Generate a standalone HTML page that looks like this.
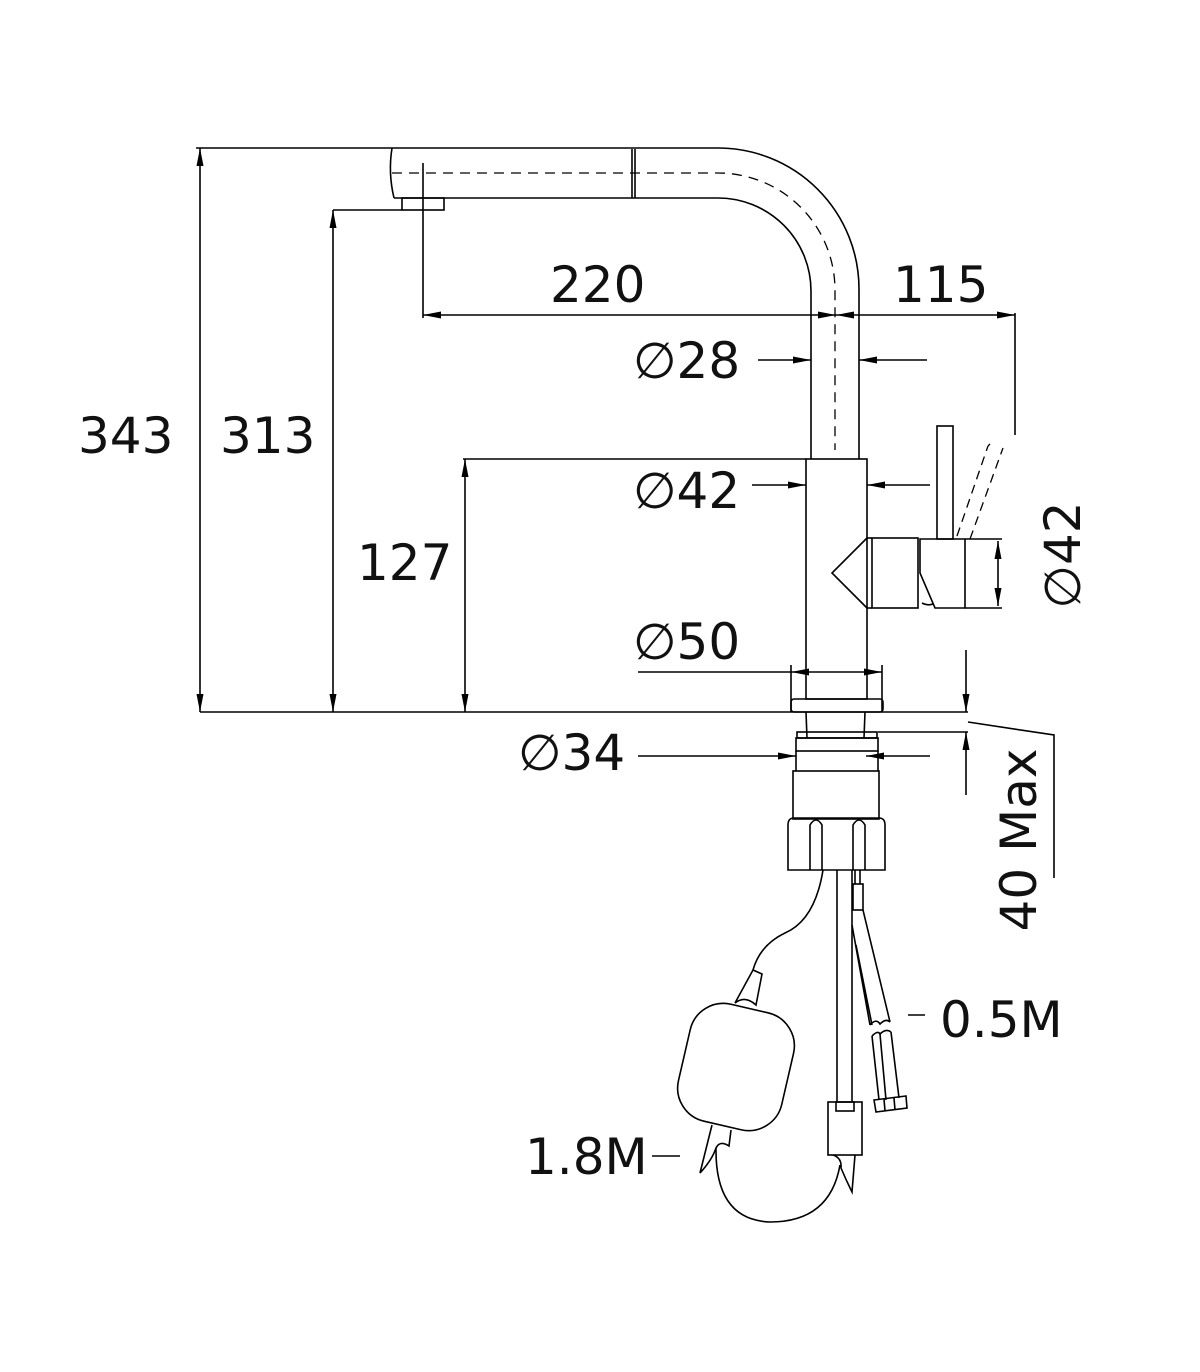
<!DOCTYPE html>
<html><head><meta charset="utf-8"><style>
html,body{margin:0;padding:0;background:#fff;}
svg{display:block;}
text{font-family:"DejaVu Sans","Liberation Sans",sans-serif;fill:#111;}
</style></head><body>
<svg width="1200" height="1372" viewBox="0 0 1200 1372" xmlns="http://www.w3.org/2000/svg">
<defs>
<marker id="a" viewBox="0 0 18 7" refX="18" refY="3.5" markerWidth="18" markerHeight="7" markerUnits="userSpaceOnUse" orient="auto-start-reverse"><path d="M0,0 L18,3.5 L0,7 z" fill="#000"/></marker>
</defs>
<g fill="none" stroke="#000" stroke-width="1.6">
<path d="M392,148 L718,148 A141,141 0 0 1 859,289 L859,459"/>
<path d="M394,198 L718,198 A93,93 0 0 1 811,291 L811,459"/>
<path d="M392,148 Q388,173 394,198"/>
<line x1="632" y1="149" x2="632" y2="198"/><line x1="635" y1="149" x2="635" y2="198"/>
<path d="M392,173 L718,173 A117,117 0 0 1 835,290 L835,450" stroke-dasharray="10,7" stroke-width="1.3"/>
<rect x="402" y="198" width="42" height="12"/>
<line x1="333" y1="210" x2="402" y2="210"/>
<line x1="423" y1="163" x2="423" y2="318"/>
<line x1="196" y1="148" x2="392" y2="148"/>
<line x1="423" y1="315" x2="836" y2="315" marker-start="url(#a)" marker-end="url(#a)"/>
<line x1="836" y1="315" x2="1015" y2="315" marker-start="url(#a)" marker-end="url(#a)"/>
<line x1="1015" y1="313" x2="1015" y2="435"/>
<line x1="758" y1="360" x2="811" y2="360" marker-end="url(#a)"/>
<line x1="927" y1="360" x2="859" y2="360" marker-end="url(#a)"/>
<rect x="806" y="459" width="61" height="240"/>
<line x1="463" y1="459" x2="806" y2="459"/>
<line x1="752" y1="485" x2="806" y2="485" marker-end="url(#a)"/>
<line x1="930" y1="485" x2="867" y2="485" marker-end="url(#a)"/>
<path d="M867,538 L832,573 L867,608"/>
<rect x="872" y="538" width="46" height="70"/>
<line x1="867" y1="538" x2="872" y2="538"/><line x1="867" y1="608" x2="872" y2="608"/>
<path d="M920,539 L920,573 L935,608 L965,608 L965,539 Z"/>
<path d="M922,603 Q928,606 933,604"/>
<line x1="965" y1="539" x2="1002" y2="539"/><line x1="965" y1="608" x2="1002" y2="608"/>
<rect x="937" y="426" width="16" height="113"/>
<path d="M957,536 L988,446 M970,539 L1003,448 M988,446 L990,444" stroke-dasharray="9,6" stroke-width="1.3"/>
<line x1="998" y1="541" x2="998" y2="606" marker-start="url(#a)" marker-end="url(#a)"/>
<line x1="791" y1="665" x2="791" y2="712"/><line x1="882" y1="665" x2="882" y2="712"/>
<line x1="638" y1="672" x2="791" y2="672"/>
<line x1="791" y1="672" x2="882" y2="672" marker-start="url(#a)" marker-end="url(#a)"/>
<rect x="791" y="699" width="92" height="13" rx="3"/>
<line x1="200" y1="712" x2="968" y2="712"/>
<line x1="878" y1="732" x2="968" y2="732"/>
<line x1="806" y1="712" x2="807" y2="738"/><line x1="865" y1="712" x2="864" y2="738"/>
<rect x="797" y="732" width="80" height="6"/>
<rect x="796" y="738" width="82" height="13"/>
<line x1="796" y1="751" x2="796" y2="771"/><line x1="878" y1="751" x2="878" y2="771"/>
<line x1="638" y1="756" x2="796" y2="756" marker-end="url(#a)"/>
<line x1="930" y1="756" x2="866" y2="756" marker-end="url(#a)"/>
<rect x="793" y="771" width="86" height="48"/>
<path d="M788,825 Q788,818 794,818 L879,818 Q885,818 885,825 L885,870 L788,870 Z"/>
<path d="M810,870 L810,825 Q816,815 822,825 L822,870 M853,870 L853,825 Q859,815 865,825 L865,870"/>
<line x1="966" y1="650" x2="966" y2="712" marker-end="url(#a)"/>
<line x1="966" y1="795" x2="966" y2="732" marker-end="url(#a)"/>
<path d="M968,722 L1054,735 L1054,878"/>
<line x1="200" y1="148" x2="200" y2="712" marker-start="url(#a)" marker-end="url(#a)"/>
<line x1="333" y1="210" x2="333" y2="712" marker-start="url(#a)" marker-end="url(#a)"/>
<line x1="465" y1="459" x2="465" y2="712" marker-start="url(#a)" marker-end="url(#a)"/>
<line x1="837" y1="870" x2="837" y2="1102"/><line x1="852" y1="870" x2="852" y2="1102"/>
<rect x="828" y="1102" width="34" height="53"/>
<rect x="836" y="1102" width="18" height="9"/>
<path d="M833,1155 Q842,1158 841,1168 Q846,1180 852,1192 L855,1155"/>
<rect x="853" y="884" width="10" height="26"/>
<line x1="855" y1="870" x2="855" y2="884"/><line x1="860" y1="870" x2="860" y2="884"/>
<path d="M852,925 L870,1025 M856,945 L872,1025 M863,910 L890,1022"/>
<path d="M870,1025 Q876,1018 880,1024 Q886,1018 890,1022"/>
<path d="M872,1036 Q878,1030 880,1034 Q886,1028 891,1032"/>
<path d="M872,1036 L879,1100 M880,1034 L886,1100 M891,1032 L899,1098"/>
<path d="M874,1100 L906,1096 L907,1108 L876,1112 Z M884,1099 L885,1111 M894,1098 L895,1110"/>
<path d="M823,870 Q815,920 785,933 Q760,945 753,970"/>
<path d="M753,970 L762,974 L756,1005 Q745,995 735,1003 Z"/>
<rect x="683" y="1007" width="106" height="120" rx="34" transform="rotate(13 736 1067)"/>
<path d="M712,1125 L700,1173 Q712,1160 716,1148 Q720,1140 729,1146 L731,1130"/>
<path d="M716,1148 Q715,1220 770,1222 Q830,1222 840,1165"/>
<line x1="908" y1="1015" x2="925" y2="1015"/>
<line x1="652" y1="1156" x2="680" y2="1156"/>
</g>
<g font-size="50">
<text x="78" y="453">343</text>
<text x="220" y="453">313</text>
<text x="357" y="580">127</text>
<text x="550" y="302">220</text>
<text x="893" y="302">115</text>
<text x="633" y="378">∅28</text>
<text x="633" y="508">∅42</text>
<text x="633" y="659">∅50</text>
<text x="518" y="770">∅34</text>
<text x="940" y="1037">0.5M</text>
<text x="525" y="1174">1.8M</text>
<text transform="translate(1080,555) rotate(-90)" text-anchor="middle">∅42</text>
<text transform="translate(1036,840) rotate(-90)" text-anchor="middle">40 Max</text>
</g>
</svg>
</body></html>
